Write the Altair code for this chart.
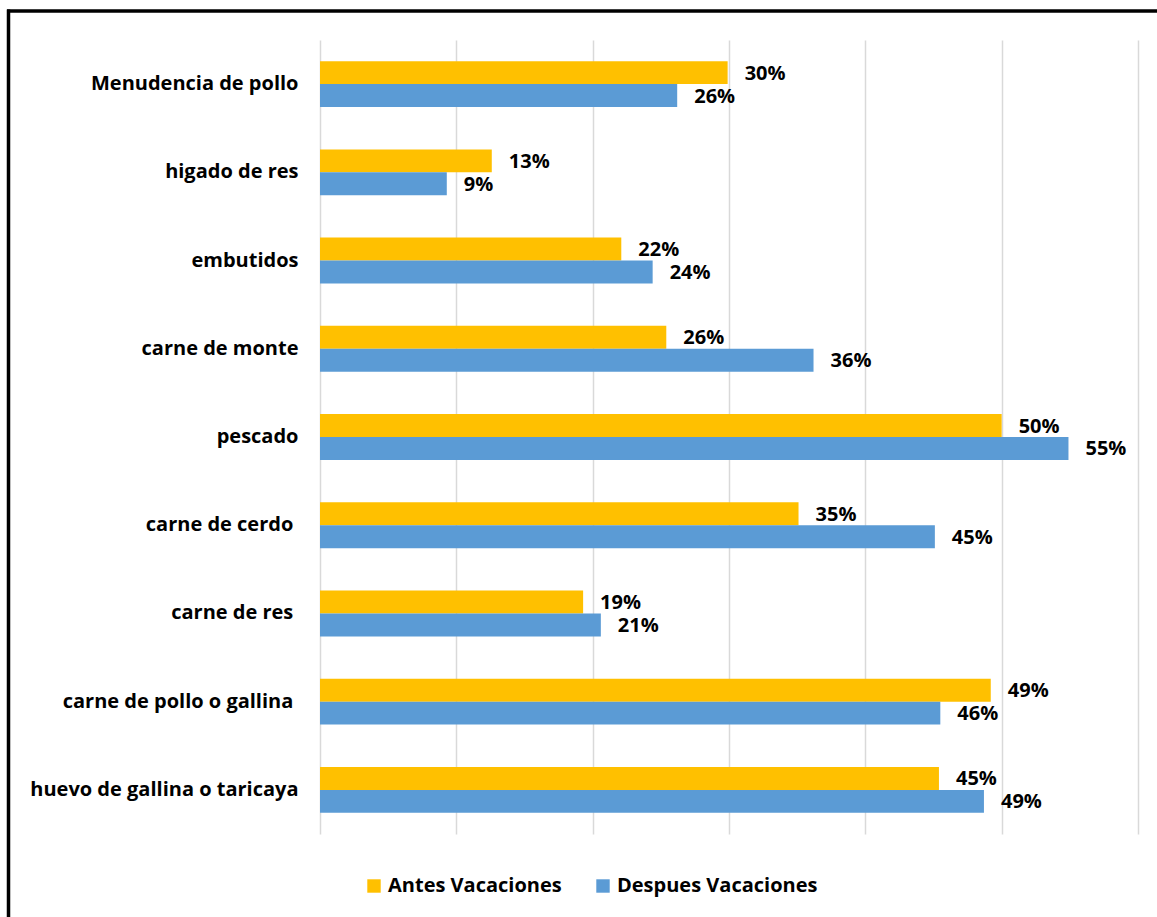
import altair as alt
import pandas as pd

categories = ["Menudencia de pollo", "higado de res", "embutidos", "carne de monte",
              "pescado", "carne de cerdo \u200b", "carne de res \u200b",
              "carne de pollo o gallina \u200b", "huevo de gallina o taricaya"]
series = ["Antes Vacaciones", "Despues Vacaciones"]
antes = [29.9, 12.6, 22.1, 25.4, 50.0, 35.1, 19.3, 49.2, 45.4]
despues = [26.2, 9.3, 24.4, 36.2, 54.9, 45.1, 20.6, 45.5, 48.7]
antes_lbl = ["30%", "13%", "22%", "26%", "50%", "35%", "19%", "49%", "45%"]
despues_lbl = ["26%", "9%", "24%", "36%", "55%", "45%", "21%", "46%", "49%"]
colors = ["#FFC000", "#5B9BD5"]

rows = []
for c, a, d, la, ld in zip(categories, antes, despues, antes_lbl, despues_lbl):
    rows.append({"cat": c, "serie": series[0], "valor": a, "lbl": la})
    rows.append({"cat": c, "serie": series[1], "valor": d, "lbl": ld})
df = pd.DataFrame(rows)

FONT = "Open Sans"
FS = 20
W, H = 818, 794

y_enc = alt.Y("cat:N", sort=categories, title=None,
              scale=alt.Scale(paddingInner=0.48, paddingOuter=0.24),
              axis=alt.Axis(domain=False, ticks=False, labelFont=FONT, labelFontSize=FS,
                            labelFontWeight="bold", labelColor="black", labelPadding=22,
                            labelLimit=400))
x_enc = alt.X("valor:Q", title=None,
              scale=alt.Scale(domain=[0, 60], nice=False),
              axis=alt.Axis(values=[0, 10, 20, 30, 40, 50, 60], labels=False, ticks=False,
                            domain=False, grid=True, gridColor="#D9D9D9", gridWidth=1.5))
yoff = alt.YOffset("serie:N", sort=series, scale=alt.Scale(paddingInner=0, paddingOuter=0))

base = alt.Chart(df)

bars = base.mark_bar().encode(
    y=y_enc, x=x_enc, yOffset=yoff,
    color=alt.Color("serie:N", sort=series, scale=alt.Scale(domain=series, range=colors),
                    legend=alt.Legend(title=None, orient="none", legendX=44, legendY=836,
                                      direction="horizontal", symbolType="square",
                                      symbolSize=180, symbolStrokeWidth=0,
                                      labelFont=FONT, labelFontSize=FS,
                                      labelFontWeight="bold", labelColor="black",
                                      columnPadding=31, labelLimit=400)),
)

texts = base.mark_text(align="left", baseline="middle", dx=17, dy=1, font=FONT,
                       fontSize=FS, fontWeight="bold", color="black").encode(
    y=alt.Y("cat:N", sort=categories), x="valor:Q", yOffset=alt.YOffset("serie:N", sort=series),
    text="lbl:N",
)

frame_df = pd.DataFrame({"a": [0]})
left_rule = alt.Chart(frame_df).mark_rule(color="black", strokeWidth=3.5).encode(
    x=alt.value(-311.5), y=alt.value(-30.5), y2=alt.value(950))
top_rule = alt.Chart(frame_df).mark_rule(color="black", strokeWidth=3.5).encode(
    x=alt.value(-313), x2=alt.value(900), y=alt.value(-29))

chart = alt.layer(bars, texts, left_rule, top_rule).properties(
    width=W, height=H,
    autosize=alt.AutoSizeParams(type="none"),
    padding={"left": 320, "top": 40, "right": 19, "bottom": 83},
).configure(background="white", view=alt.ViewConfig(stroke=None))

chart.save("out.html", embed_options={"renderer": "svg", "actions": False})
